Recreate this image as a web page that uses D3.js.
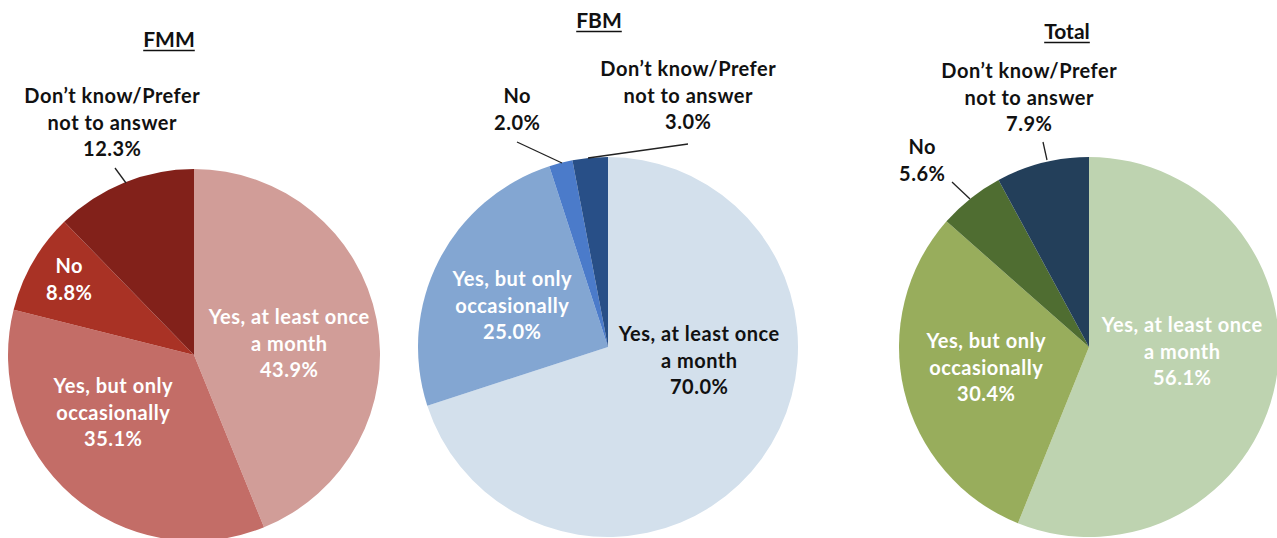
<!DOCTYPE html>
<html>
<head>
<meta charset="utf-8">
<script src="https://cdn.jsdelivr.net/npm/d3@7"></script>
<style>
  html, body { margin: 0; padding: 0; background: #fff; }
  svg { display: block; }
  text { font-family: Lato, "Open Sans", sans-serif; font-weight: 700; }
</style>
</head>
<body>
<svg id="chart" width="1277" height="538"></svg>
<script>
// Answer categories, in clockwise order from 12 o'clock
const categories = [
  "Yes, at least once a month",
  "Yes, but only occasionally",
  "No",
  "Don't know/Prefer not to answer"
];
// Wrapped label lines for each category
const categoryLines = [
  ["Yes, at least once", "a month"],
  ["Yes, but only", "occasionally"],
  ["No"],
  ["Don\u2019t know/Prefer", "not to answer"]
];

// Group titles
const groups = ["FMM", "FBM", "Total"];

// Percent of respondents per category
const fmmValues   = [43.9, 35.1, 8.8, 12.3];
const fbmValues   = [70.0, 25.0, 2.0, 3.0];
const totalValues = [56.1, 30.4, 5.6, 7.9];

// Slice fills per group
const fmmColors   = ["#d19d98", "#c36d67", "#a93225", "#82211a"];
const fbmColors   = ["#d3e0ec", "#83a6d2", "#4b7bca", "#284f87"];
const totalColors = ["#bed3b0", "#98ad5c", "#4f6d31", "#233f5a"];

// Label text colours per group
const fmmText   = ["#fff", "#fff", "#fff", "#111"];
const fbmText   = ["#111", "#fff", "#111", "#111"];
const totalText = ["#fff", "#fff", "#111", "#111"];

// Layout: pie centre/radius, title position, label anchors and leader lines
// (label offsets are relative to the pie centre, first-line baseline)
const layout = [
  { cx: 194, cy: 355, r: 186, title: [169, 47],
    labels: [[95, -31], [-81, 38], [-125, -82], [-82, -252]],
    leaders: [null, null, null, [[-79, -187], [-68, -172]]] },
  { cx: 608, cy: 347, r: 190, title: [599, 28],
    labels: [[91, -6], [-96, -61], [-91, -244], [80, -271]],
    leaders: [null, null, [[-91, -205], [-46, -184]], [[80, -203], [-20, -189]]] },
  { cx: 1089, cy: 347, r: 190, title: [1067, 39],
    labels: [[93, -15], [-103, 1], [-167, -193], [-60, -269]],
    leaders: [null, null, [[-137, -165], [-119, -148]], [[-46, -205], [-42, -187]]] }
];

const valueSets = [fmmValues, fbmValues, totalValues];
const colorSets = [fmmColors, fbmColors, totalColors];
const textSets  = [fmmText, fbmText, totalText];

const svg = d3.select("#chart");
const fmt = d3.format(".1f");
const lineH = 26.5;
const spacing = 0.5;
const pie = d3.pie().sort(null).value(d => d.value);

groups.forEach((name, gi) => {
  const L = layout[gi];
  const data = categories.map((c, i) => ({ cat: c, value: valueSets[gi][i], i }));
  const arcs = pie(data);
  const arc = d3.arc().innerRadius(0).outerRadius(L.r);
  const color = d3.scaleOrdinal().domain(categories).range(colorSets[gi]);

  const g = svg.append("g").attr("transform", `translate(${L.cx},${L.cy})`);

  g.selectAll("path.slice")
    .data(arcs)
    .join("path")
    .attr("class", "slice")
    .attr("d", arc)
    .attr("fill", d => color(d.data.cat))
    .attr("stroke", "none");

  // leader lines
  arcs.forEach((a, i) => {
    const ld = L.leaders[i];
    if (!ld) return;
    g.append("line")
      .attr("x1", ld[0][0]).attr("y1", ld[0][1])
      .attr("x2", ld[1][0]).attr("y2", ld[1][1])
      .attr("stroke", "#222").attr("stroke-width", 1.3);
  });

  // labels (x nudged by half the letter spacing to keep lines centred)
  arcs.forEach((a, i) => {
    const pos = L.labels[i];
    const lines = categoryLines[i].concat([fmt(a.data.value) + "%"]);
    const t = g.append("text")
      .attr("x", pos[0] + spacing / 2).attr("y", pos[1])
      .attr("text-anchor", "middle")
      .attr("font-size", 20)
      .attr("letter-spacing", spacing)
      .attr("fill", textSets[gi][i]);
    lines.forEach((ln, k) => {
      t.append("tspan")
        .attr("x", pos[0] + spacing / 2)
        .attr("dy", k === 0 ? 0 : lineH)
        .text(ln);
    });
  });

  // title with underline
  const tt = svg.append("text")
    .attr("x", L.title[0]).attr("y", L.title[1])
    .attr("text-anchor", "middle")
    .attr("font-size", 21)
    .attr("fill", "#111")
    .text(name);
  const bb = tt.node().getBBox();
  svg.append("line")
    .attr("x1", bb.x).attr("x2", bb.x + bb.width)
    .attr("y1", L.title[1] + 3.5).attr("y2", L.title[1] + 3.5)
    .attr("stroke", "#111").attr("stroke-width", 1.6);
});
</script>
</body>
</html>
